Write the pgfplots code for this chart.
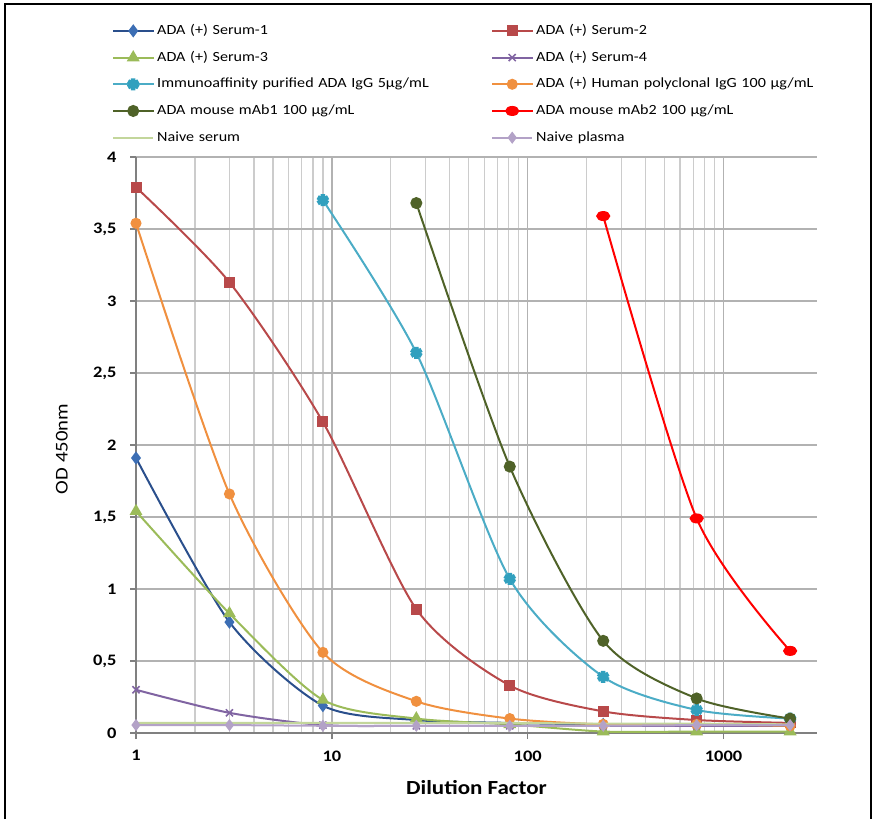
\documentclass[border=0pt]{standalone}
\usepackage{fontspec}
\setmainfont{Carlito}[FakeStretch=1.15]
\usepackage{pgfplots}
\pgfplotsset{compat=1.18}
\definecolor{cSa}{HTML}{2A4F8C}
\definecolor{cSaF}{HTML}{3C6EB4}
\definecolor{cSb}{HTML}{B8494A}
\definecolor{cSc}{HTML}{9BBB59}
\definecolor{cSd}{HTML}{8064A2}
\definecolor{cIm}{HTML}{4BACC6}
\definecolor{cImM}{HTML}{31A0BE}
\definecolor{cHp}{HTML}{F0903F}
\definecolor{cMa}{HTML}{4F6228}
\definecolor{cMb}{HTML}{FF0000}
\definecolor{cNs}{HTML}{C3D69B}
\definecolor{cNp}{HTML}{B3A2C7}
\begin{document}
\begin{tikzpicture}[x=1pt,y=1pt]
\useasboundingbox (0,0) rectangle (875,819);
\draw[line width=2.5pt] (5,0) -- (5,815) -- (871,815) -- (871,0);
\begin{axis}[
  at={(136pt,86pt)}, anchor=south west,
  scale only axis, width=681pt, height=576pt,
  xmode=log, xmin=1, xmax=3000, ymin=0, ymax=4,
  clip mode=individual,
  axis x line=bottom, axis y line=left,
  axis line style={-, draw=black!50, line width=1.5pt},
  xtick={1,10,100,1000}, xticklabels={1,10,100,1000},
  ytick={0,0.5,1,1.5,2,2.5,3,3.5,4},
  yticklabels={0,{0,5},1,{1,5},2,{2,5},3,{3,5},4},
  xmajorgrids, xminorgrids, ymajorgrids,
  major grid style={draw=black!30, line width=1.3pt},
  minor grid style={draw=black!20, line width=1.3pt},
  tick align=outside, major tick length=6pt, minor tick length=0pt,
  tick style={draw=black!50, line width=1.5pt},
  ticklabel style={font=\bfseries\fontsize{16}{18}\selectfont},
  /pgf/number format/assume math mode=true,
  yticklabel style={xshift=-10pt},
  xticklabel style={yshift=-8pt},
  xlabel={Dilution Factor},
  xlabel style={at={(axis description cs:0.5,-0.094)}, anchor=center, font=\bfseries\fontsize{20}{22}\selectfont},
  ylabel={OD 450nm},
  ylabel style={at={(axis description cs:-0.109,0.493)}, anchor=center, font=\fontsize{18}{20}\selectfont},
  legend columns=2, legend cell align=left,
  legend style={at={(axis description cs:-0.0352,1.2306)}, anchor=north west,
    draw=none, fill=none, inner sep=0pt, row sep=13.7pt,
    font=\fontsize{14}{16}\selectfont,
    nodes={text width=331pt, inner xsep=3pt, inner ysep=0pt, text height=10pt, text depth=3pt}},
  legend image code/.code={\draw[mark repeat=2,mark phase=2] plot coordinates {(0pt,0pt) (20pt,0pt) (40pt,0pt)};},
  every axis plot/.append style={line width=2pt, smooth, tension=0.45},
]
\addplot[color=cSa, mark=diamond*, mark size=5pt, mark options={fill=cSaF, draw=cSaF}] coordinates {(1,1.91)(3,0.77)(9,0.19)(27,0.09)(81,0.07)(243,0.06)(729,0.06)(2187,0.05)};
\addlegendentry{ADA (+) Serum-1}
\addplot[color=cSb, mark=square*, mark size=4.5pt] coordinates {(1,3.79)(3,3.13)(9,2.16)(27,0.86)(81,0.33)(243,0.15)(729,0.09)(2187,0.07)};
\addlegendentry{ADA (+) Serum-2}
\addplot[color=cSc, mark=triangle*, mark size=5.5pt] coordinates {(1,1.54)(3,0.83)(9,0.23)(27,0.10)(81,0.06)(243,0.01)(729,0.01)(2187,0.01)};
\addlegendentry{ADA (+) Serum-3}
\addplot[color=cSd, mark=x, mark size=5pt, mark options={line width=1.5pt}] coordinates {(1,0.30)(3,0.14)(9,0.055)(27,0.05)(81,0.05)(243,0.05)(729,0.05)(2187,0.05)};
\addlegendentry{ADA (+) Serum-4}
\addplot[color=cIm, mark=asterisk, mark size=6pt, mark options={draw=cImM, line width=4.5pt}] coordinates {(9,3.70)(27,2.64)(81,1.07)(243,0.39)(729,0.16)(2187,0.10)};
\addlegendentry{Immunoaffinity purified ADA IgG 5µg/mL}
\addplot[color=cHp, mark=*, mark size=4.5pt] coordinates {(1,3.54)(3,1.66)(9,0.56)(27,0.22)(81,0.10)(243,0.06)(729,0.06)(2187,0.05)};
\addlegendentry{ADA (+) Human polyclonal IgG 100 µg/mL}
\addplot[color=cMa, mark=*, mark size=5pt] coordinates {(27,3.68)(81,1.85)(243,0.64)(729,0.24)(2187,0.10)};
\addlegendentry{ADA mouse mAb1 100 µg/mL}
\addplot[color=cMb, mark=*, mark size=4pt, mark options={xscale=1.5}] coordinates {(243,3.59)(729,1.49)(2187,0.57)};
\addlegendentry{ADA mouse mAb2 100 µg/mL}
\addplot[color=cNs, no marks, sharp plot] coordinates {(1,0.07)(3,0.07)(9,0.07)(27,0.07)(81,0.07)(243,0.065)(729,0.065)(2187,0.06)};
\addlegendentry{Naive serum}
\addplot[color=cNp, mark=diamond*, mark size=4.5pt, sharp plot] coordinates {(1,0.055)(3,0.055)(9,0.05)(27,0.05)(81,0.05)(243,0.05)(729,0.055)(2187,0.055)};
\addlegendentry{Naive plasma}
\end{axis}
\end{tikzpicture}
\end{document}
